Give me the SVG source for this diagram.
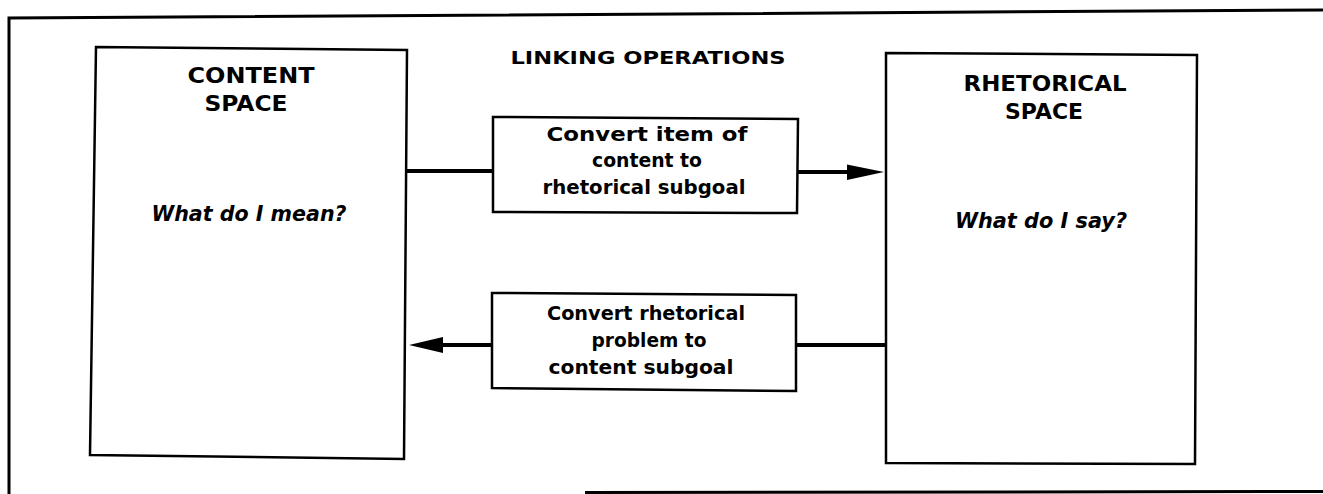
<svg xmlns="http://www.w3.org/2000/svg" width="1323" height="494" viewBox="0 0 1323 494">
<style>
.frame{fill:none;stroke:#000;stroke-width:3}
.box{fill:#fff;stroke:#000;stroke-width:2.5;stroke-linejoin:miter}
.conn{fill:none;stroke:#000;stroke-width:4}
.head{fill:#000}
.t{font-family:"DejaVu Sans","Liberation Sans",sans-serif;font-weight:bold;fill:#000;text-anchor:middle}
.title{font-size:21px}
.hdr{font-size:17px}
.q{font-size:21px;font-style:italic}
.op{font-size:20px}
</style>
<rect x="0" y="0" width="1323" height="494" fill="#fff"/>
<path class="frame" d="M9,494 L9,18 L1323,10 M585,492.5 L1323,491.5"/>
<text class="t hdr" x="648" y="64" textLength="275" lengthAdjust="spacingAndGlyphs">LINKING OPERATIONS</text>
<g id="content-space">
<path class="box" d="M96,47 L407,50 L404,459 L90,455 Z"/>
<text class="t title" x="251" y="83" textLength="127" lengthAdjust="spacingAndGlyphs">CONTENT</text>
<text class="t title" x="246" y="111" textLength="83" lengthAdjust="spacingAndGlyphs">SPACE</text>
<text class="t q" x="249" y="221" textLength="195" lengthAdjust="spacingAndGlyphs">What do I mean?</text>
</g>
<g id="rhetorical-space">
<path class="box" d="M886,53 L1197,55 L1195,464 L886,463 Z"/>
<text class="t title" x="1045" y="91" textLength="163" lengthAdjust="spacingAndGlyphs">RHETORICAL</text>
<text class="t title" x="1044" y="119" textLength="78" lengthAdjust="spacingAndGlyphs">SPACE</text>
<text class="t q" x="1041" y="228" textLength="172" lengthAdjust="spacingAndGlyphs">What do I say?</text>
</g>
<g id="connectors">
<line class="conn" x1="406" y1="171" x2="493" y2="171"/>
<line class="conn" x1="797" y1="172" x2="850" y2="172"/>
<polygon class="head" points="847,164.5 884,172 847,180"/>
<line class="conn" x1="886" y1="345" x2="796" y2="345"/>
<line class="conn" x1="492" y1="345" x2="440" y2="345"/>
<polygon class="head" points="443,337 409,345 443,353"/>
</g>
<g id="op-content-to-rhetorical">
<path class="box" d="M493,117 L798,119 L797,213 L493,212 Z"/>
<text class="t op" x="647" y="141" textLength="201" lengthAdjust="spacingAndGlyphs">Convert item of</text>
<text class="t op" x="647" y="167" textLength="110" lengthAdjust="spacingAndGlyphs">content to</text>
<text class="t op" x="644" y="194" textLength="203" lengthAdjust="spacingAndGlyphs">rhetorical subgoal</text>
</g>
<g id="op-rhetorical-to-content">
<path class="box" d="M492,293 L796,295 L796,391 L492,388 Z"/>
<text class="t op" x="646" y="320" textLength="198" lengthAdjust="spacingAndGlyphs">Convert rhetorical</text>
<text class="t op" x="649" y="347" textLength="115" lengthAdjust="spacingAndGlyphs">problem to</text>
<text class="t op" x="641" y="374" textLength="185" lengthAdjust="spacingAndGlyphs">content subgoal</text>
</g>
</svg>
